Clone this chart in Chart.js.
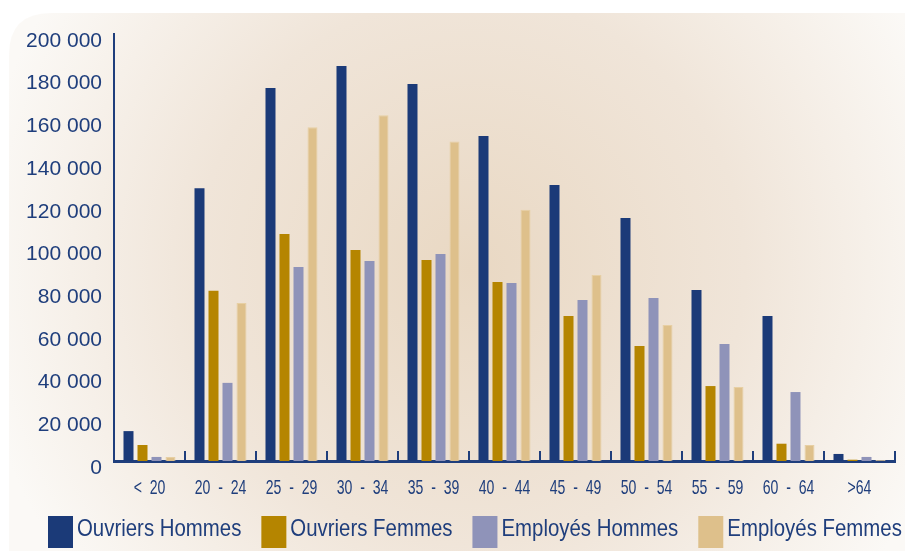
<!DOCTYPE html>
<html>
<head>
<meta charset="utf-8">
<script src="https://cdn.jsdelivr.net/npm/chart.js@4.4.1/dist/chart.umd.min.js"></script>
<style>
html,body{margin:0;padding:0;background:#ffffff;}
#wrap{width:905px;height:551px;position:relative;}
canvas{display:block;}
</style>
</head>
<body>
<div id="wrap"><canvas id="c" width="905" height="551"></canvas></div>
<script>
// ---- data ----
const categories = ["<  20", "20  -  24", "25  -  29", "30  -  34", "35  -  39", "40  -  44", "45  -  49", "50  -  54", "55  -  59", "60  -  64", ">64"];
const seriesNames = ["Ouvriers Hommes", "Ouvriers Femmes", "Employés Hommes", "Employés Femmes"];
const ouvriersHommes = [14000, 127700, 174700, 185000, 176600, 152200, 129300, 113800, 80100, 67900, 3300];
const ouvriersFemmes = [7500, 79800, 106300, 98800, 94100, 83800, 67900, 53900, 35100, 8100, 600];
const employesHommes = [1900, 36600, 90900, 93700, 97000, 83400, 75400, 76300, 54800, 32300, 1900];
const employesFemmes = [1900, 74000, 156300, 162000, 149600, 117700, 87100, 63700, 34700, 7500, 500];
const yMin = 0;
const yMax = 200000;
const yStep = 20000;

// ---- styles ----
const colors = ["#1b3a78", "#b58500", "#8f93b9", "#dec08b"];
const borderColors = ["#1b3a78", "#b58500", "#9397bb", "#e7cfa3"];
const textColor = "#1f3e7c";
const axisColor = "#1f3e7c";
const baseFont = "'Liberation Sans', Arial, sans-serif";

const bgPlugin = {
  id: "bg",
  beforeDraw(chart) {
    const ctx = chart.ctx;
    ctx.save();
    ctx.fillStyle = "#ffffff";
    ctx.fillRect(0, 0, chart.width, chart.height);
    const g = ctx.createRadialGradient(470, 270, 0, 470, 270, 500);
    g.addColorStop(0, "#e9d8c3");
    g.addColorStop(0.55, "#f0e5d9");
    g.addColorStop(1, "#fbf9f6");
    ctx.fillStyle = g;
    const x = 9, y = 13, w = 960, h = 600, r = 42;
    ctx.beginPath();
    ctx.moveTo(x + r, y);
    ctx.lineTo(x + w, y);
    ctx.lineTo(x + w, y + h);
    ctx.lineTo(x, y + h);
    ctx.lineTo(x, y + r);
    ctx.quadraticCurveTo(x, y, x + r, y);
    ctx.closePath();
    ctx.fill();
    ctx.restore();
  }
};

// inner tick marks between categories + condensed category labels
const xAxisPlugin = {
  id: "xAxisDecor",
  afterDatasetsDraw(chart) {
    const xs = chart.scales.x;
    const ctx = chart.ctx;
    const n = categories.length;
    const half = (xs.getPixelForValue(1) - xs.getPixelForValue(0)) / 2;
    const yb = chart.scales.y.getPixelForValue(0);
    ctx.save();
    ctx.strokeStyle = axisColor;
    ctx.lineWidth = 2;
    for (let i = 0; i < n; i++) {
      const px = Math.round(xs.getPixelForValue(i) + half);
      ctx.beginPath();
      ctx.moveTo(px, yb - 10);
      ctx.lineTo(px, yb);
      ctx.stroke();
    }
    ctx.fillStyle = textColor;
    ctx.font = "21px " + baseFont;
    ctx.textAlign = "center";
    ctx.textBaseline = "alphabetic";
    for (let i = 0; i < n; i++) {
      ctx.save();
      ctx.translate(xs.getPixelForValue(i), yb + 33);
      ctx.scale(0.67, 1);
      ctx.fillText(categories[i], 0, 0);
      ctx.restore();
    }
    ctx.restore();
  }
};

const legendPlugin = {
  id: "customLegend",
  afterDraw(chart) {
    const ctx = chart.ctx;
    const sx = 0.85;
    ctx.save();
    ctx.font = "24px " + baseFont;
    ctx.textBaseline = "alphabetic";
    ctx.textAlign = "left";
    let x = 48;
    chart.data.datasets.forEach((ds) => {
      ctx.fillStyle = ds.backgroundColor;
      ctx.fillRect(x, 516, 25, 32);
      ctx.fillStyle = textColor;
      ctx.save();
      ctx.translate(x + 29, 536);
      ctx.scale(sx, 1);
      ctx.fillText(ds.label, 0, 0);
      ctx.restore();
      x += 29 + ctx.measureText(ds.label).width * sx + 20;
    });
    ctx.restore();
  }
};

const seriesValues = [ouvriersHommes, ouvriersFemmes, employesHommes, employesFemmes];

new Chart(document.getElementById("c"), {
  type: "bar",
  data: {
    labels: categories,
    datasets: seriesValues.map((vals, i) => ({
      label: seriesNames[i],
      data: vals,
      backgroundColor: colors[i],
      borderColor: borderColors[i],
      borderWidth: i === 3 ? 1 : 0,
      barPercentage: 0.714,
      categoryPercentage: 0.789
    }))
  },
  options: {
    responsive: false,
    animation: false,
    devicePixelRatio: 1,
    layout: { padding: { top: 34, right: 10, left: 0, bottom: 40 } },
    plugins: {
      legend: { display: false },
      tooltip: { enabled: false },
      title: { display: false }
    },
    scales: {
      x: {
        offset: true,
        grid: { display: false, drawTicks: false },
        border: { display: true, color: axisColor, width: 3 },
        ticks: { display: false },
        afterFit(scale) { scale.height = 50; }
      },
      y: {
        min: yMin,
        max: yMax,
        grid: { display: false, drawTicks: false },
        border: { display: true, color: axisColor, width: 2 },
        ticks: {
          stepSize: yStep,
          color: textColor,
          padding: 12,
          labelOffset: 7,
          font: { family: baseFont, size: 21 },
          callback: (v) => String(v).replace(/\B(?=(\d{3})+(?!\d))/g, " ")
        },
        afterFit(scale) { scale.width = 114; }
      }
    }
  },
  plugins: [bgPlugin, xAxisPlugin, legendPlugin]
});
</script>
</body>
</html>
